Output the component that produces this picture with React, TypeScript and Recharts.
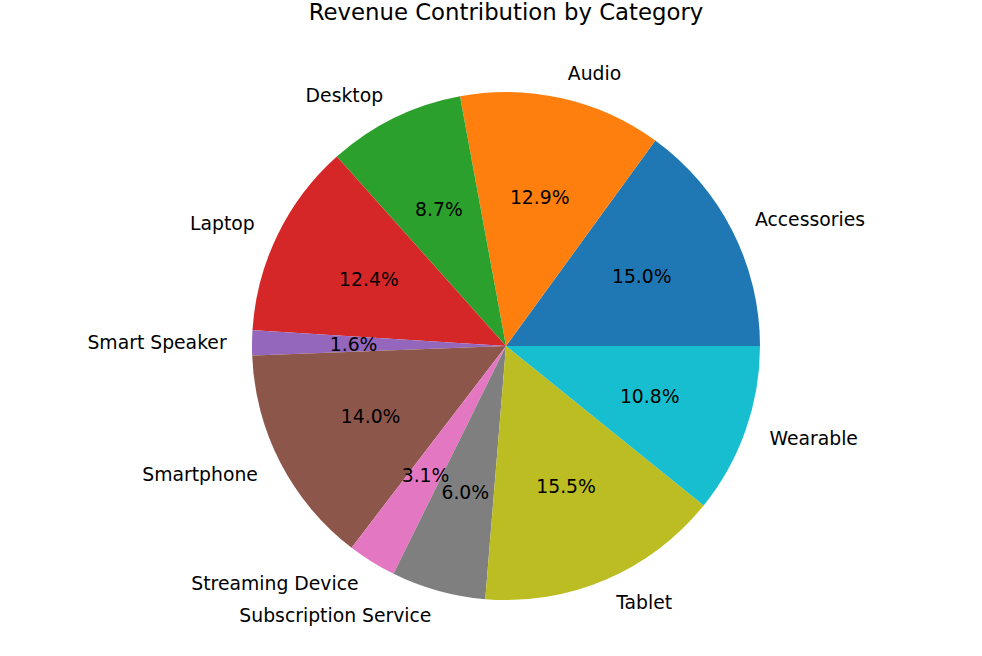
import React from 'react';
import { PieChart, Pie, Cell } from 'recharts';

const categories = [
  'Accessories', 'Audio', 'Desktop', 'Laptop', 'Smart Speaker',
  'Smartphone', 'Streaming Device', 'Subscription Service', 'Tablet', 'Wearable',
];
const shares = [15.0, 12.9, 8.7, 12.4, 1.6, 14.0, 3.1, 6.0, 15.5, 10.8];
const colors = [
  '#1f77b4', '#ff7f0e', '#2ca02c', '#d62728', '#9467bd',
  '#8c564b', '#e377c2', '#7f7f7f', '#bcbd22', '#17becf',
];

const data = categories.map((name, i) => ({ name, value: shares[i] }));

const RAD = Math.PI / 180;
const FONT = 'DejaVu Sans, sans-serif';
const LABEL_SIZE = 18.8;

const renderLabel = (props: any) => {
  const { cx, cy, midAngle, outerRadius, percent, name } = props;
  const cos = Math.cos(-midAngle * RAD);
  const sin = Math.sin(-midAngle * RAD);
  const lx = cx + outerRadius * 1.1 * cos;
  const ly = cy + outerRadius * 1.1 * sin;
  const px = cx + outerRadius * 0.6 * cos;
  const py = cy + outerRadius * 0.6 * sin;
  return (
    <g>
      <text
        x={lx}
        y={ly}
        textAnchor={cos >= 0 ? 'start' : 'end'}
        dominantBaseline="central"
        fill="#000"
        fontSize={LABEL_SIZE}
        fontFamily={FONT}
      >
        {name}
      </text>
      <text
        x={px}
        y={py}
        textAnchor="middle"
        dominantBaseline="central"
        fill="#000"
        fontSize={LABEL_SIZE}
        fontFamily={FONT}
      >
        {`${(percent * 100).toFixed(1)}%`}
      </text>
    </g>
  );
};

export default function App() {
  return (
    <div style={{ position: 'absolute', left: 0, top: 0, background: '#fff' }}>
      <PieChart width={982} height={656} margin={{ top: 0, right: 0, bottom: 0, left: 0 }}>
        <text
          x={506}
          y={12}
          textAnchor="middle"
          dominantBaseline="central"
          fontSize={22.8}
          fontFamily={FONT}
          fill="#000"
        >
          Revenue Contribution by Category
        </text>
        <Pie
          data={data}
          dataKey="value"
          nameKey="name"
          cx={506}
          cy={346}
          outerRadius={254}
          startAngle={0}
          endAngle={360}
          stroke="none"
          labelLine={false}
          label={renderLabel}
          isAnimationActive={false}
        >
          {data.map((d, i) => (
            <Cell key={d.name} fill={colors[i]} />
          ))}
        </Pie>
      </PieChart>
    </div>
  );
}
